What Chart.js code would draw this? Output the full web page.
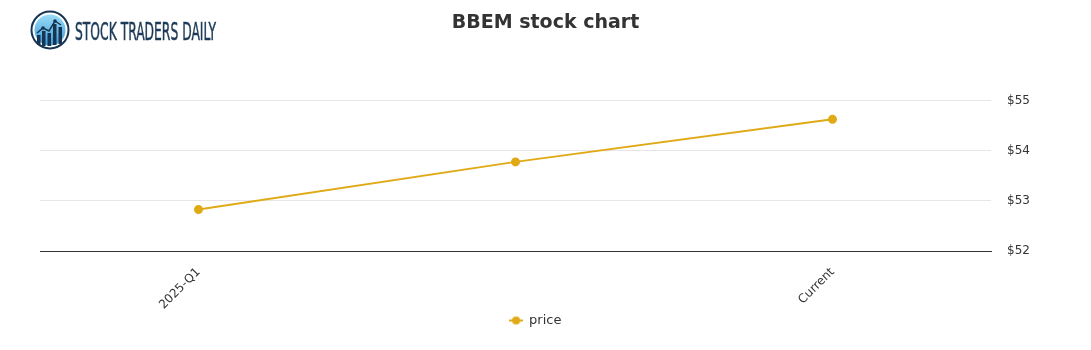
<!DOCTYPE html>
<html>
<head>
<meta charset="utf-8">
<script src="https://cdn.jsdelivr.net/npm/chart.js@4/dist/chart.umd.min.js"></script>
<style>
  html, body { margin: 0; padding: 0; background: #fff; }
  #wrap { position: relative; width: 1091px; height: 350px; }
  #logo { position: absolute; left: 0; top: 0; }
</style>
</head>
<body>
<div id="wrap">
  <canvas id="chart" width="1091" height="350"></canvas>
  <svg id="logo" width="240" height="60" xmlns="http://www.w3.org/2000/svg">
    <defs>
      <linearGradient id="sky" x1="0" y1="0" x2="0" y2="1">
        <stop offset="0" stop-color="#9adcf8"/>
        <stop offset="1" stop-color="#3a9ad8"/>
      </linearGradient>
    </defs>
    <circle cx="50" cy="30" r="18.5" fill="#fff" stroke="#173452" stroke-width="2"/>
    <circle cx="50" cy="30" r="15.5" fill="url(#sky)"/>
    <rect x="37" y="35" width="3.5" height="10" fill="#173452"/>
    <rect x="42" y="31" width="3.5" height="15" fill="#173452"/>
    <rect x="47.5" y="33" width="3.5" height="13" fill="#173452"/>
    <rect x="53" y="24" width="3.5" height="21" fill="#173452"/>
    <rect x="58.5" y="27" width="3.5" height="17" fill="#173452"/>
    <polyline points="37,33 43,28 49,31 55,21 61,25" fill="none" stroke="#173452" stroke-width="1.5"/>
    <circle cx="43" cy="28" r="1.8" fill="#173452"/>
    <circle cx="55" cy="21" r="1.8" fill="#173452"/>
    <text x="75" y="40" font-family="DejaVu Sans Condensed, DejaVu Sans, sans-serif" font-size="24"
          fill="#1d3b58" stroke="#1d3b58" stroke-width="0.5"
          textLength="141" lengthAdjust="spacingAndGlyphs">STOCK TRADERS DAILY</text>
  </svg>
</div>
<script>
const quarterLabels = ['2025-Q1', '', 'Current'];
const priceValues = [52.83, 53.78, 54.63];
const yMin = 52;
const yMax = 55;
const lineColor = '#e0a916';

// legend marker: short line with a dot in the middle
const marker = document.createElement('canvas');
marker.width = 14;
marker.height = 10;
const mctx = marker.getContext('2d');
mctx.strokeStyle = lineColor;
mctx.lineWidth = 2;
mctx.beginPath();
mctx.moveTo(0, 5);
mctx.lineTo(14, 5);
mctx.stroke();
mctx.fillStyle = lineColor;
mctx.beginPath();
mctx.arc(7, 5, 4, 0, Math.PI * 2);
mctx.fill();

// the legend in the picture sits a little left of centre
const legendShift = {
  id: 'legendShift',
  afterLayout(chart) {
    chart.legend.left -= 10;
    chart.legend.right -= 10;
  }
};

const ctx = document.getElementById('chart').getContext('2d');
new Chart(ctx, {
  type: 'line',
  data: {
    labels: quarterLabels,
    datasets: [{
      label: 'price',
      data: priceValues,
      yAxisID: 'y',
      borderColor: lineColor,
      backgroundColor: lineColor,
      borderWidth: 2,
      pointRadius: 3.5,
      pointHoverRadius: 4,
      tension: 0,
      fill: false
    }]
  },
  plugins: [legendShift],
  options: {
    responsive: false,
    animation: false,
    layout: {padding: {left: 0, right: 0, top: 0, bottom: 13}},
    scales: {
      x: {
        offset: true,
        grid: {display: false, drawTicks: false},
        border: {display: true, color: '#333', width: 1},
        ticks: {
          color: '#333',
          font: {family: 'DejaVu Sans', size: 12},
          minRotation: 45,
          maxRotation: 45,
          padding: 14,
          autoSkip: false
        },
        afterFit: (scale) => { scale.height = 63; }
      },
      // empty left gutter so the title stays centred on the canvas
      gutter: {
        position: 'left',
        display: true,
        grid: {display: false, drawTicks: false},
        border: {display: false},
        ticks: {display: false},
        afterFit: (scale) => { scale.width = 40; }
      },
      y: {
        position: 'right',
        min: yMin,
        max: yMax,
        grid: {color: '#e6e6e6', drawTicks: false},
        border: {display: false},
        ticks: {
          stepSize: 1,
          color: '#333',
          padding: 16,
          font: {family: 'DejaVu Sans', size: 12},
          callback: (v) => '$' + v
        },
        afterFit: (scale) => { scale.width = 100; }
      }
    },
    plugins: {
      title: {
        display: true,
        text: 'BBEM stock chart',
        color: '#333',
        font: {family: 'DejaVu Sans', size: 19, weight: 'bold'},
        padding: {top: 12, bottom: 66}
      },
      legend: {
        position: 'bottom',
        labels: {
          color: '#333',
          padding: 0,
          font: {family: 'DejaVu Sans', size: 13},
          usePointStyle: true,
          generateLabels: (chart) => chart.data.datasets.map((ds, i) => ({
            text: ds.label,
            fillStyle: lineColor,
            strokeStyle: lineColor,
            fontColor: '#333',
            pointStyle: marker,
            datasetIndex: i
          }))
        }
      },
      tooltip: {enabled: false}
    }
  }
});
</script>
</body>
</html>
